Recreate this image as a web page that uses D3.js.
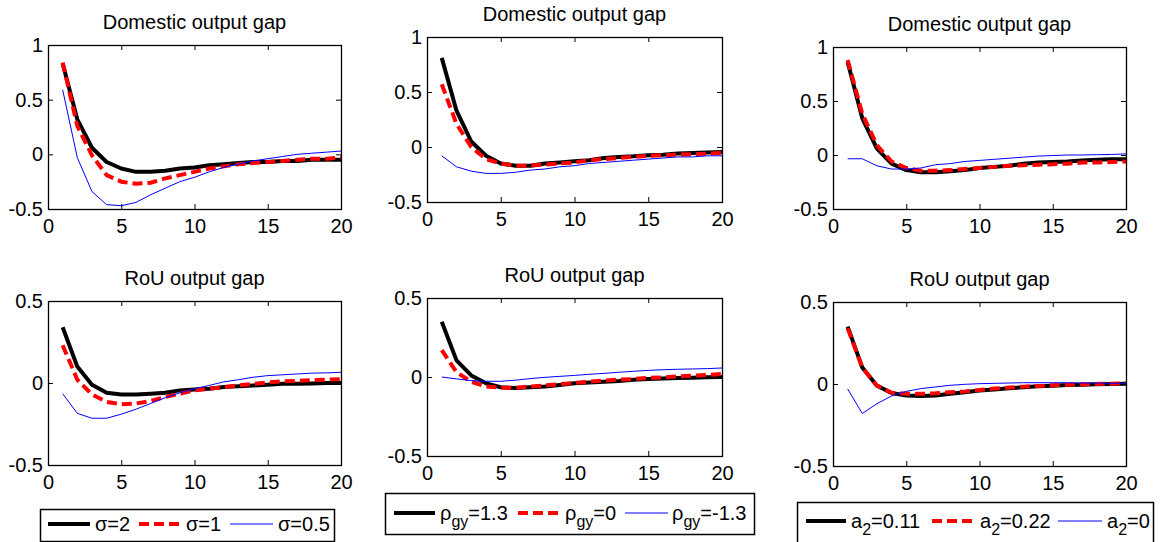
<!DOCTYPE html>
<html>
<head>
<meta charset="utf-8">
<script src="https://cdn.jsdelivr.net/npm/d3@7"></script>
<style>
  html, body { margin: 0; padding: 0; background: #fff; }
  svg { display: block; }
  text { font-family: "Liberation Sans", Arial, Helvetica, sans-serif; fill: #000; }
</style>
</head>
<body>
<svg id="chart" width="1160" height="542"></svg>
<script>
// ---------------- DATA ----------------
const periods = [1,2,3,4,5,6,7,8,9,10,11,12,13,14,15,16,17,18,19,20];
const xTicks = [0,5,10,15,20];
const yTicksTop = [-0.5,0,0.5,1];
const yTicksBottom = [-0.5,0,0.5];
const yTickLabelsTop = ["-0.5","0","0.5","1"];
const yTickLabelsBottom = ["-0.5","0","0.5"];
const panelTitles = ["Domestic output gap","RoU output gap"];

// Column 1: sigma
const domSigma2   = [0.83,0.32,0.06,-0.07,-0.13,-0.16,-0.16,-0.15,-0.13,-0.12,-0.10,-0.09,-0.08,-0.07,-0.07,-0.06,-0.06,-0.05,-0.05,-0.05];
const domSigma1   = [0.84,0.26,-0.01,-0.19,-0.25,-0.27,-0.26,-0.22,-0.19,-0.16,-0.13,-0.11,-0.09,-0.08,-0.07,-0.06,-0.05,-0.04,-0.04,-0.03];
const domSigma05  = [0.59,-0.03,-0.34,-0.46,-0.47,-0.44,-0.37,-0.31,-0.25,-0.21,-0.16,-0.12,-0.09,-0.06,-0.04,-0.02,0.00,0.01,0.02,0.03];
const rouSigma2   = [0.34,0.10,-0.01,-0.06,-0.07,-0.07,-0.065,-0.06,-0.045,-0.04,-0.035,-0.025,-0.02,-0.015,-0.01,-0.005,-0.005,-0.003,0.0,0.0];
const rouSigma1   = [0.23,0.02,-0.07,-0.115,-0.13,-0.125,-0.11,-0.085,-0.065,-0.045,-0.035,-0.025,-0.015,-0.005,0.003,0.01,0.013,0.017,0.02,0.023];
const rouSigma05  = [-0.065,-0.185,-0.215,-0.215,-0.19,-0.16,-0.125,-0.09,-0.06,-0.035,-0.015,0.007,0.02,0.035,0.045,0.05,0.055,0.06,0.062,0.065];

// Column 2: rho_gy
const domRho13    = [0.81,0.33,0.05,-0.08,-0.15,-0.17,-0.17,-0.15,-0.14,-0.13,-0.12,-0.10,-0.09,-0.085,-0.075,-0.07,-0.06,-0.055,-0.05,-0.045];
const domRho0     = [0.57,0.21,0.0,-0.11,-0.15,-0.17,-0.17,-0.16,-0.15,-0.14,-0.12,-0.11,-0.10,-0.09,-0.08,-0.075,-0.07,-0.065,-0.06,-0.055];
const domRhoM13   = [-0.08,-0.18,-0.22,-0.24,-0.24,-0.23,-0.21,-0.20,-0.18,-0.17,-0.15,-0.14,-0.13,-0.12,-0.11,-0.10,-0.09,-0.09,-0.08,-0.08];
const rouRho13    = [0.35,0.105,0.01,-0.04,-0.065,-0.07,-0.065,-0.06,-0.05,-0.04,-0.035,-0.03,-0.025,-0.017,-0.013,-0.01,-0.006,-0.004,-0.002,0.0];
const rouRho0     = [0.17,0.03,-0.03,-0.06,-0.068,-0.068,-0.06,-0.053,-0.045,-0.038,-0.03,-0.023,-0.017,-0.013,-0.006,-0.002,0.004,0.008,0.013,0.02];
const rouRhoM13   = [0.0,-0.012,-0.023,-0.027,-0.027,-0.02,-0.01,-0.002,0.004,0.01,0.017,0.023,0.03,0.036,0.042,0.046,0.049,0.051,0.053,0.057];

// Column 3: a2
const domA011     = [0.86,0.34,0.06,-0.08,-0.14,-0.16,-0.16,-0.15,-0.14,-0.12,-0.11,-0.10,-0.08,-0.07,-0.065,-0.06,-0.05,-0.045,-0.04,-0.04];
const domA022     = [0.88,0.38,0.09,-0.06,-0.12,-0.145,-0.145,-0.14,-0.13,-0.12,-0.11,-0.10,-0.095,-0.09,-0.085,-0.08,-0.07,-0.07,-0.065,-0.06];
const domA0       = [-0.035,-0.035,-0.10,-0.13,-0.13,-0.12,-0.09,-0.08,-0.06,-0.05,-0.04,-0.03,-0.02,-0.01,-0.005,0.0,0.0,0.003,0.005,0.01];
const rouA011     = [0.35,0.10,-0.01,-0.055,-0.07,-0.073,-0.07,-0.06,-0.05,-0.04,-0.033,-0.026,-0.02,-0.014,-0.01,-0.006,-0.004,-0.002,0.0,0.002];
const rouA022     = [0.34,0.10,-0.01,-0.053,-0.06,-0.06,-0.057,-0.05,-0.045,-0.037,-0.028,-0.022,-0.016,-0.012,-0.008,-0.004,-0.002,0.0,0.002,0.004];
const rouA0       = [-0.03,-0.18,-0.12,-0.073,-0.045,-0.028,-0.018,-0.008,-0.002,0.002,0.004,0.006,0.008,0.008,0.008,0.008,0.006,0.006,0.004,0.004];

// Legend labels: [main, subscript, rest]
const legendSigma = [["σ","","=2"],["σ","","=1"],["σ","","=0.5"]];
const legendRho   = [["ρ","gy","=1.3"],["ρ","gy","=0"],["ρ","gy","=-1.3"]];
const legendA2    = [["a","2","=0.11"],["a","2","=0.22"],["a","2","=0"]];

// ---------------- LAYOUT / STYLE ----------------
const styles = [
  {stroke:"#000000", width:4, dash:null},
  {stroke:"#ff0000", width:4, dash:"10,5"},
  {stroke:"#0000ff", width:1, dash:null}
];

const panels = [
  {box:[48,45,341,209],   title:0, yTicks:yTicksTop, yLabels:yTickLabelsTop, yDom:[-0.5,1], series:[domSigma2,domSigma1,domSigma05]},
  {box:[427,37,722,202],  title:0, yTicks:yTicksTop, yLabels:yTickLabelsTop, yDom:[-0.5,1], series:[domRho13,domRho0,domRhoM13]},
  {box:[833,47,1126,209], title:0, yTicks:yTicksTop, yLabels:yTickLabelsTop, yDom:[-0.5,1], series:[domA011,domA022,domA0]},
  {box:[48,301,341,465],  title:1, yTicks:yTicksBottom, yLabels:yTickLabelsBottom, yDom:[-0.5,0.5], series:[rouSigma2,rouSigma1,rouSigma05]},
  {box:[427,298,722,456], title:1, yTicks:yTicksBottom, yLabels:yTickLabelsBottom, yDom:[-0.5,0.5], series:[rouRho13,rouRho0,rouRhoM13]},
  {box:[833,302,1126,466],title:1, yTicks:yTicksBottom, yLabels:yTickLabelsBottom, yDom:[-0.5,0.5], series:[rouA011,rouA022,rouA0]}
];

const legends = [
  {box:[40,509,334,541],  lineY:524, items:legendSigma, lines:[[48,90],[139,181],[230,273]], textX:[95,186,278]},
  {box:[385,493,754,534], lineY:513, items:legendRho,   lines:[[394,435],[518,559],[625,668]], textX:[440,565,672]},
  {box:[797,502,1153,545],lineY:521, items:legendA2,    lines:[[806,846],[932,973],[1058,1102]], textX:[851,980,1107]}
];

const FS = 20;
const svg = d3.select("#chart");

panels.forEach(p => {
  const [x0,y0,x1,y1] = p.box;
  const x = d3.scaleLinear().domain([0,20]).range([x0,x1]);
  const y = d3.scaleLinear().domain(p.yDom).range([y1,y0]);
  const g = svg.append("g");

  // lines
  const line = d3.line().x((d,i)=>x(periods[i])).y(d=>y(d));
  p.series.forEach((s,k) => {
    const st = styles[k];
    g.append("path").datum(s).attr("d", line)
      .attr("fill","none").attr("stroke", st.stroke).attr("stroke-width", st.width)
      .attr("stroke-dasharray", st.dash).attr("stroke-linejoin","round");
  });

  // axes: bottom labels + inward ticks
  const axB = d3.axisBottom(x).tickValues(xTicks).tickSize(-5).tickPadding(10).tickFormat(d3.format("d"));
  const axT = d3.axisTop(x).tickValues(xTicks).tickSize(-5).tickFormat("");
  const yFmt = d => p.yLabels[p.yTicks.indexOf(d)];
  const axL = d3.axisLeft(y).tickValues(p.yTicks).tickSize(-5).tickPadding(5).tickFormat(yFmt);
  const axR = d3.axisRight(y).tickValues(p.yTicks).tickSize(-5).tickFormat("");

  [[axB,`translate(0,${y1})`],[axT,`translate(0,${y0})`],[axL,`translate(${x0},0)`],[axR,`translate(${x1},0)`]].forEach(([ax,tr]) => {
    const a = g.append("g").attr("transform", tr).call(ax);
    a.select(".domain").remove();
    a.selectAll("line").attr("stroke","#000").attr("stroke-width",1);
    a.selectAll("text").style("font-size", FS+"px").style("font-family","Liberation Sans, Arial, sans-serif").attr("fill","#000");
  });
  g.append("rect").attr("x",x0+0.5).attr("y",y0+0.5).attr("width",x1-x0).attr("height",y1-y0)
    .attr("fill","none").attr("stroke","#000").attr("stroke-width",1.3);

  g.append("text").attr("x",(x0+x1)/2).attr("y",y0-16).attr("text-anchor","middle")
    .style("font-size", FS+"px").text(panelTitles[p.title]);
});

legends.forEach(L => {
  const [x0,y0,x1,y1] = L.box;
  const g = svg.append("g");
  g.append("rect").attr("x",x0+0.5).attr("y",y0+0.5).attr("width",x1-x0).attr("height",y1-y0)
    .attr("fill","#fff").attr("stroke","#000").attr("stroke-width",1.5);
  L.items.forEach((it,k) => {
    const st = styles[k];
    g.append("line").attr("x1",L.lines[k][0]).attr("x2",L.lines[k][1]).attr("y1",L.lineY).attr("y2",L.lineY)
      .attr("stroke",st.stroke).attr("stroke-width",st.width).attr("stroke-dasharray",st.dash);
    const t = g.append("text").attr("x",L.textX[k]).attr("y",L.lineY+7).style("font-size",FS+"px");
    t.append("tspan").text(it[0]);
    if (it[1]) {
      t.append("tspan").attr("dy",7).style("font-size","16px").text(it[1]);
      t.append("tspan").attr("dy",-7).text(it[2]);
    } else {
      t.append("tspan").text(it[2]);
    }
  });
});
</script>
</body>
</html>
